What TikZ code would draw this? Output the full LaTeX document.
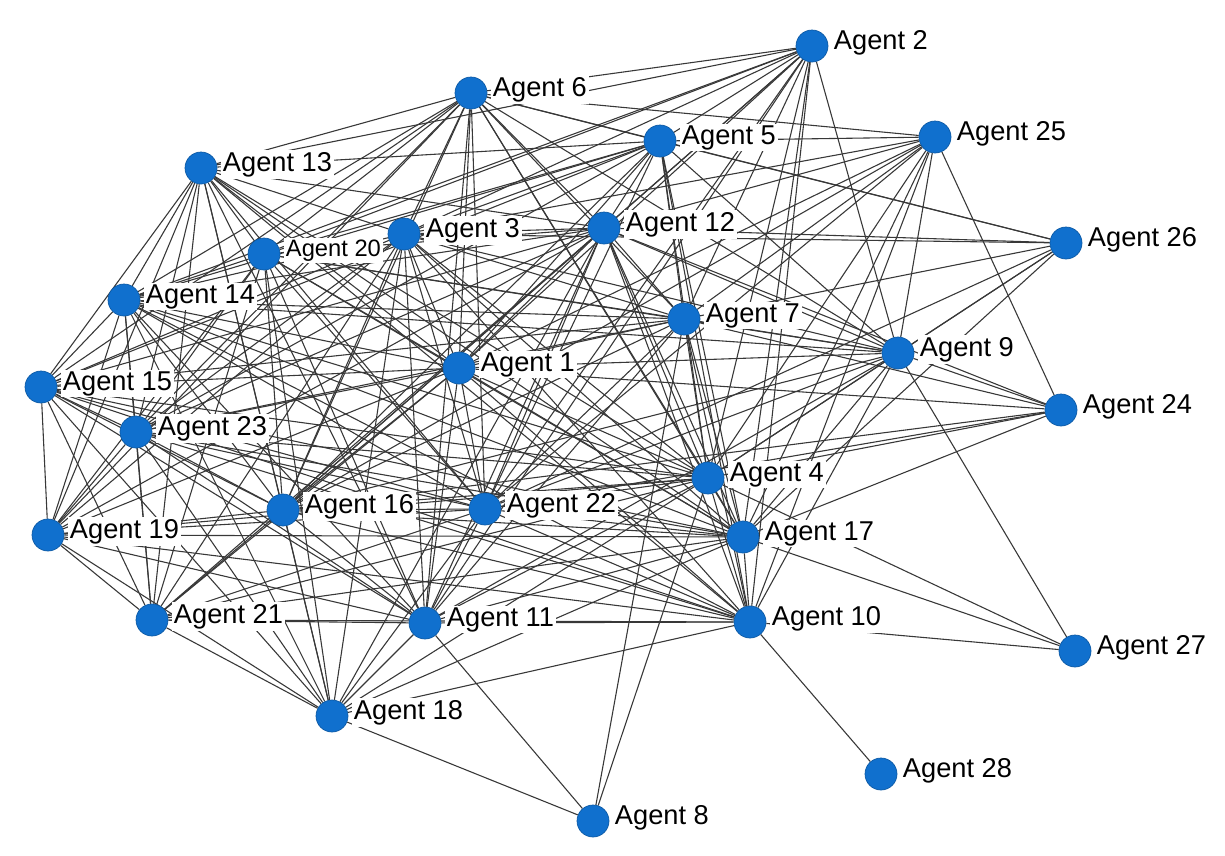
\documentclass[tikz,border=0pt]{standalone}
\usepackage{xcolor}
\usepackage{fontspec}
\setmainfont{Liberation Sans}
\usepackage{tikz}
\usetikzlibrary{calc, positioning}
\pgfdeclarelayer{bg}
\pgfsetlayers{bg,main}
\definecolor{agentblue}{RGB}{16,112,206}
\tikzset{
  agent/.style={circle, fill=agentblue, draw=agentblue!80!black, line width=0.4pt, minimum size=0.64cm, inner sep=0pt},
  agentlabel/.style={fill=white, inner sep=1pt, font=\fontsize{15.5}{17}\selectfont, yshift=2pt},
  link/.style={draw=black!78, line width=0.62pt}
}
\begin{document}
\begin{tikzpicture}
              [x=0.02cm, y=-0.02cm, node distance=2pt]
              \useasboundingbox (0,0) rectangle (1225,856);
              % nodes %
              \foreach \n/\px/\py in {1/459/368, 2/812/46, 3/404/234, 4/708/478, 5/660/141,
                  6/471/93, 7/684/319, 8/593/821, 9/898/353, 10/750/622, 11/425/623,
                  12/604/228, 13/201/168, 14/124/300, 15/41/387, 16/283/510, 17/743/537,
                  18/332/716, 19/48/535, 21/152/620, 22/485/509, 23/136/432,
                  24/1061/410, 25/935/137, 26/1066/243, 27/1075/651, 28/881/774}{
                \node[agent] (a\n) at (\px,\py) {};
                \node[agentlabel, right=of a\n] (l\n) {Agent \n};
              }
              \node[agent] (a20) at (264,254) {};
              \node[agentlabel, right=of a20, font=\fontsize{13.5}{15}\selectfont] (l20) {Agent 20};

              % edges %
              \begin{pgfonlayer}{bg}
              \foreach \s/\ts in {
                  1/{2,3,4,5,6,7,9,10,11,12,13,14,15,16,17,19,20,21,22,23,24,25},
                  2/{3,4,5,6,7,9,10,11,12,13,14,16,17,20,22},
                  3/{4,5,6,7,9,10,11,12,13,14,15,16,17,18,19,21,22,23,25,26},
                  4/{5,6,7,8,9,10,11,12,13,14,15,16,17,18,19,21,22,23,24,25,26,27},
                  5/{6,7,9,10,12,13,14,15,16,17,20,22,23,25,26},
                  6/{7,9,11,12,13,14,15,16,17,19,20,22,23,25,26},
                  7/{8,9,10,11,12,14,15,16,17,20,22,23,24,25,26},
                  9/{10,11,12,14,16,17,20,22,24,25,26,27},
                  10/{11,12,13,14,15,16,17,18,19,21,22,23,25,27,28},
                  11/{8,12,13,14,15,16,17,18,19,20,21,22,23},
                  12/{13,14,15,16,17,18,19,20,21,22,23,24,25,26},
                  13/{14,15,16,17,18,19,20,21,22,23},
                  14/{15,16,17,18,19,20,21,22,23},
                  15/{16,17,18,19,21,22,23},
                  16/{17,18,19,20,21,22,23,24,25},
                  17/{18,19,20,21,22,23,24,25,26,27},
                  18/{8,19,20,21,22,23},
                  19/{20,21,22,23},
                  20/{21,22,23},
                  21/{22,23},
                  22/{23,24,25,26},
                  24/{25}}{
                \foreach \t in \ts
                  \draw[link] (a\s) -- (a\t);
              }
              \end{pgfonlayer}
            \end{tikzpicture}
\end{document}
